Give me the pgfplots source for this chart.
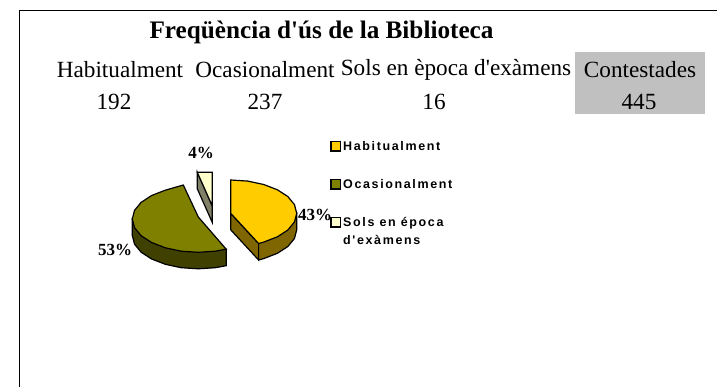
\documentclass[border=0pt]{standalone}
\usepackage{pgfplots}
\pgfplotsset{compat=1.18}
\usepackage{fontspec}
\newfontfamily\rf{Liberation Serif}
\newfontfamily\legfont[LetterSpace=13]{Liberation Sans}
\definecolor{cyellow}{HTML}{FFCC00}
\definecolor{cyellowd}{HTML}{806600}
\definecolor{colive}{HTML}{808000}
\definecolor{colived}{HTML}{404000}
\definecolor{ccream}{HTML}{FFFFCC}
\definecolor{ccreamd}{HTML}{808066}
\definecolor{cgrey}{HTML}{C0C0C0}
\tikzset{cell/.style={font=\rf\fontsize{23.2}{26}\selectfont,inner sep=0pt},
  pct/.style={font=\rf\fontsize{17}{20}\selectfont\bfseries,inner sep=0pt},
  leg/.style={font=\legfont\fontsize{12.5}{17.5}\selectfont\bfseries,anchor=west,inner sep=0pt,align=left}}
\begin{document}
\begin{tikzpicture}
\useasboundingbox (0,0) rectangle (717pt,387pt);
\begin{axis}[at={(0,0)},anchor=south west,width=717pt,height=387pt,scale only axis,
  xmin=0,xmax=717,ymin=0,ymax=387,y dir=reverse,hide axis,clip=false]
% grey cell
\addplot[draw=none,fill=cgrey] coordinates {(575,52)(705,52)(705,114)(575,114)} --cycle;
% frame
\addplot[black,line width=1pt] coordinates {(19.3,387)(19.3,10.3)(717,10.3)};
% yellow side faces
\addplot[black,line width=1.2pt,fill=cyellowd] coordinates {(230.7,180)(230.7,229.8)(258.6,260)(258.6,243.5)(230.7,213.3)} --cycle;
\addplot[black,line width=1.2pt,fill=cyellowd] coordinates {(296.7,213.3)(296.7,229.8)(294.5,238.4)(287.9,246.5)(277.4,253.3)(263.7,258.6)(258.6,260)(258.6,243.5)} --cycle;
% yellow top
\addplot[black,line width=1.2pt,fill=cyellow] coordinates {(230.7,180)(247.8,181.1)(263.7,184.5)(277.4,189.8)(287.9,196.6)(294.5,204.7)(296.7,213.3)(294.5,221.9)(287.9,230)(277.4,236.8)(263.7,242.1)(258.6,243.5)(230.7,213.3)} --cycle;
% olive side
\addplot[black,line width=1.2pt,fill=colived] coordinates {(226.2,249.2)(226.2,265.7)(215.4,267.7)(198.3,268.8)(181.2,267.7)(165.3,264.3)(151.6,259)(141.1,252.2)(134.5,244.1)(132.3,235.5)(132.3,219)(226.2,249.2)} --cycle;
% olive top
\addplot[black,line width=1.2pt,fill=colive] coordinates {(226.2,249.2)(215.4,251.2)(198.3,252.3)(181.2,251.2)(165.3,247.8)(151.6,242.5)(141.1,235.7)(134.5,227.6)(132.3,219)(134.5,210.4)(141.1,202.4)(151.6,195.5)(165.3,190.2)(183.3,185)(198.3,217)} --cycle;
% cream slice
\addplot[black,line width=1.2pt,fill=ccreamd] coordinates {(197.3,172.3)(197.3,188.8)(212.3,222.5)(212.3,206)} --cycle;
\addplot[black,line width=1.2pt,fill=ccream] coordinates {(197.3,172.3)(212.3,172.3)(212.3,206)} --cycle;
% legend keys
\addplot[only marks,mark=square*,mark size=4.6pt,mark options={draw=black,line width=1.2pt,fill=cyellow}] coordinates {(335.5,146.5)};
\addplot[only marks,mark=square*,mark size=4.6pt,mark options={draw=black,line width=1.2pt,fill=colive}] coordinates {(335.5,184.5)};
\addplot[only marks,mark=square*,mark size=4.6pt,mark options={draw=black,line width=1.2pt,fill=ccream}] coordinates {(335.5,222.5)};
% text
\node[font=\rf\fontsize{25.2}{28}\selectfont\bfseries,inner sep=0pt] at (axis cs:321.5,32) {Freqüència d'ús de la Biblioteca};
\node[cell] at (axis cs:120,70) {Habitualment};
\node[cell] at (axis cs:265,70) {Ocasionalment};
\node[cell] at (axis cs:456,70) {Sols en època d'exàmens};
\node[cell] at (axis cs:640,70) {Contestades};
\node[cell] at (axis cs:114,102) {192};
\node[cell] at (axis cs:265,102) {237};
\node[cell] at (axis cs:434,102) {16};
\node[cell] at (axis cs:639,102) {445};
\node[pct] at (axis cs:201,153) {4\%};
\node[pct] at (axis cs:315,215) {43\%};
\node[pct] at (axis cs:115,250) {53\%};
\node[leg] at (axis cs:343,146.5) {Habitualment};
\node[leg] at (axis cs:343,184.5) {Ocasionalment};
\node[leg] at (axis cs:343,231) {Sols en época\\d'exàmens};
\end{axis}
\end{tikzpicture}
\end{document}
